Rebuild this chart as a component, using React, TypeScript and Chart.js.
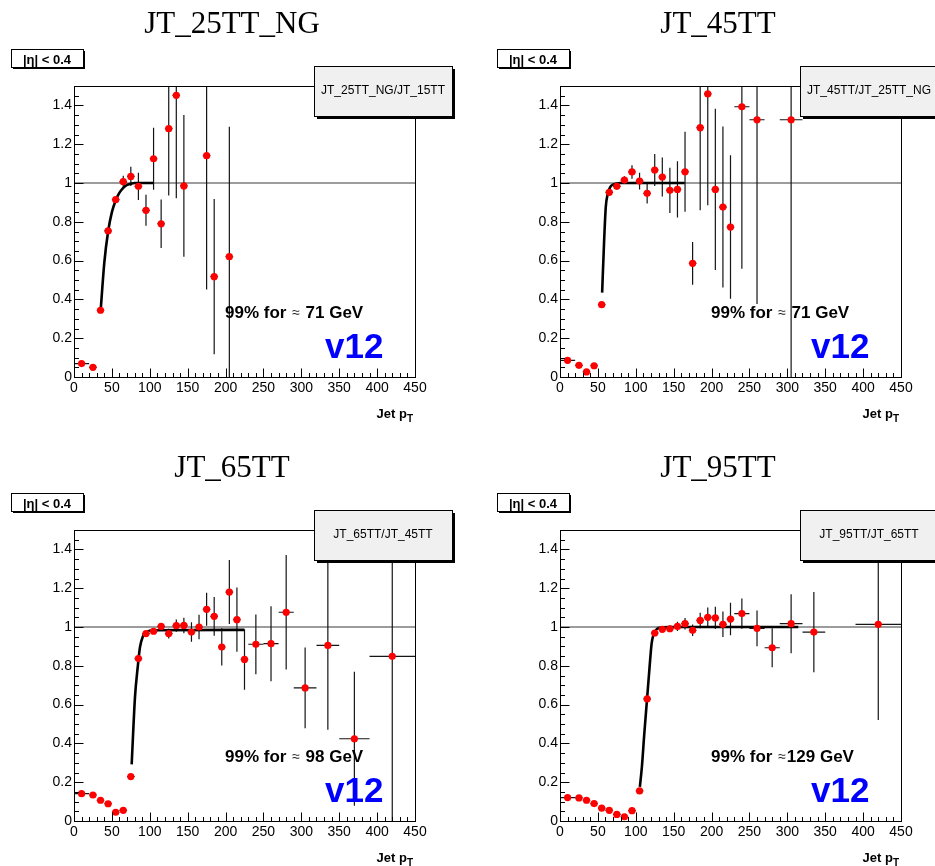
import React, { useEffect, useRef } from 'react';
import { Chart, registerables } from 'chart.js';

Chart.register(...registerables);

// ---------- data ----------
const binCenters = [10, 25, 35, 45, 55, 65, 75, 85, 95, 105, 115, 125, 135, 145, 155, 165, 175, 185, 195, 205, 215, 225, 240, 260, 280, 305, 335, 370, 420];
const binHalfWidths = [10, 5, 5, 5, 5, 5, 5, 5, 5, 5, 5, 5, 5, 5, 5, 5, 5, 5, 5, 5, 5, 5, 10, 10, 10, 15, 15, 20, 30];

const xTickValues = [0, 50, 100, 150, 200, 250, 300, 350, 400, 450];
const yTickValues = [0, 0.2, 0.4, 0.6, 0.8, 1, 1.2, 1.4];

const titles = ['JT_25TT_NG', 'JT_45TT', 'JT_65TT', 'JT_95TT'];
const legendTexts = ['JT_25TT_NG/JT_15TT', 'JT_45TT/JT_25TT_NG', 'JT_65TT/JT_45TT', 'JT_95TT/JT_65TT'];
const notes = ['99% for \u2248 71 GeV', '99% for \u2248 71 GeV', '99% for \u2248 98 GeV', '99% for \u2248129 GeV'];
const versionLabel = 'v12';
const etaLabel = '|\u03b7| < 0.4';

const ratio25 = [0.069, 0.050, 0.344, 0.753, 0.914, 1.007, 1.034, 0.983, 0.859, 1.125, 0.790, 1.280, 1.452, 0.985, null, null, 1.141, 0.517, null, 0.620, null, null, null, null, null, null, null, null, null];
const err25 = [0.004, 0.004, 0.008, 0.012, 0.015, 0.03, 0.05, 0.07, 0.08, 0.16, 0.125, 0.345, 0.53, 0.365, null, null, 0.69, 0.40, null, 0.67, null, null, null, null, null, null, null, null, null];

const ratio45 = [0.086, 0.060, 0.026, 0.058, 0.373, 0.952, 0.983, 1.015, 1.057, 1.010, 0.947, 1.067, 1.031, 0.962, 0.967, 1.058, 0.586, 1.285, 1.459, 0.967, 0.876, 0.773, 1.393, 1.326, null, 1.326, null, null, null];
const err45 = [0.004, 0.004, 0.004, 0.005, 0.008, 0.012, 0.015, 0.02, 0.035, 0.043, 0.053, 0.082, 0.10, 0.117, 0.145, 0.206, 0.11, 0.426, 0.574, 0.416, 0.415, 0.37, 0.835, 0.95, null, 1.45, null, null, null];

const ratio65 = [0.141, 0.134, 0.107, 0.089, 0.045, 0.055, 0.229, 0.837, 0.966, 0.978, 1.003, 0.966, 1.007, 1.008, 0.974, 1.000, 1.091, 1.055, 0.897, 1.180, 1.038, 0.833, 0.911, 0.914, 1.076, 0.686, 0.905, 0.424, 0.849];
const err65 = [0.004, 0.004, 0.004, 0.004, 0.004, 0.005, 0.008, 0.012, 0.012, 0.014, 0.018, 0.025, 0.032, 0.04, 0.05, 0.063, 0.085, 0.10, 0.096, 0.165, 0.166, 0.156, 0.154, 0.193, 0.295, 0.208, 0.434, 0.345, 0.95];

const ratio95 = [0.121, 0.119, 0.107, 0.090, 0.066, 0.055, 0.034, 0.022, 0.053, 0.155, 0.629, 0.969, 0.988, 0.991, 1.003, 1.017, 0.983, 1.034, 1.050, 1.047, 1.014, 1.041, 1.069, 0.993, 0.893, 1.017, 0.974, null, 1.014];
const err95 = [0.004, 0.004, 0.004, 0.004, 0.004, 0.004, 0.004, 0.004, 0.005, 0.008, 0.015, 0.012, 0.014, 0.017, 0.024, 0.03, 0.03, 0.04, 0.05, 0.057, 0.066, 0.084, 0.078, 0.092, 0.10, 0.152, 0.207, null, 0.493];

// fit curves
const fit25X = [35.5, 40, 45, 50, 55, 60, 65, 70, 75, 80, 105];
const fit25Y = [0.36, 0.59, 0.75, 0.85, 0.91, 0.95, 0.975, 0.99, 0.996, 1.0, 1.0];
const fit45X = [55.6, 58.2, 60.4, 63.1, 66.2, 70.6, 79.4, 164.5];
const fit45Y = [0.435, 0.70, 0.876, 0.945, 0.979, 0.993, 1.0, 1.0];
const fit65X = [76.1, 80.5, 84, 87.1, 90.6, 95.9, 104.7, 224.8];
const fit65Y = [0.292, 0.64, 0.79, 0.897, 0.948, 0.974, 0.983, 0.985];
const fit95X = [105.4, 108, 111.2, 114.7, 118.2, 120.9, 123.5, 127.9, 134.5, 145.6, 314.5];
const fit95Y = [0.176, 0.276, 0.448, 0.62, 0.793, 0.914, 0.962, 0.99, 0.998, 1.0, 1.0];

const ratios = [ratio25, ratio45, ratio65, ratio95];
const errors = [err25, err45, err65, err95];
const fitXs = [fit25X, fit45X, fit65X, fit95X];
const fitYs = [fit25Y, fit45Y, fit65Y, fit95Y];

// ---------- drawing ----------
const SANS = '"Liberation Sans", Arial, Helvetica, sans-serif';
const SERIF = '"Liberation Serif", "Times New Roman", serif';
const CW = 467;
const CH = 444;

const rootPlugin = {
  id: 'rootPanel',
  beforeDatasetsDraw(chart: any) {
    const { ctx, chartArea: a } = chart;
    const x = chart.scales.x;
    const y = chart.scales.y;
    ctx.save();
    ctx.beginPath();
    ctx.rect(a.left, a.top, a.right - a.left, a.bottom - a.top);
    ctx.clip();
    const y1 = y.getPixelForValue(1);
    ctx.strokeStyle = '#3a3a3a';
    ctx.lineWidth = 1.2;
    ctx.beginPath();
    ctx.moveTo(a.left, y1);
    ctx.lineTo(a.right, y1);
    ctx.stroke();
    const pts = chart.data.datasets[1].data;
    ctx.strokeStyle = '#151515';
    ctx.lineWidth = 1.2;
    for (const p of pts) {
      const px = x.getPixelForValue(p.x);
      const py = y.getPixelForValue(p.y);
      ctx.beginPath();
      ctx.moveTo(x.getPixelForValue(p.x - p.ex), py);
      ctx.lineTo(x.getPixelForValue(p.x + p.ex), py);
      ctx.moveTo(px, y.getPixelForValue(p.y - p.ey));
      ctx.lineTo(px, y.getPixelForValue(p.y + p.ey));
      ctx.stroke();
    }
    ctx.restore();
  },
  afterDraw(chart: any, _args: any, opts: any) {
    const { ctx, chartArea: a } = chart;
    const x = chart.scales.x;
    const y = chart.scales.y;
    ctx.save();
    // frame
    const L = Math.round(a.left) + 0.5;
    const R = Math.round(a.right) + 0.5;
    const T = Math.round(a.top) + 0.5;
    const B = Math.round(a.bottom) + 0.5;
    ctx.strokeStyle = '#000';
    ctx.lineWidth = 1;
    ctx.strokeRect(L, T, R - L, B - T);
    // ticks (inward)
    ctx.beginPath();
    for (let k = 0; k <= 45; k++) {
      const px = Math.round(x.getPixelForValue(k * 10)) + 0.5;
      const len = k % 5 === 0 ? 9 : 4.5;
      ctx.moveTo(px, B);
      ctx.lineTo(px, B - len);
    }
    for (let k = 0; k <= 30; k++) {
      const py = Math.round(y.getPixelForValue(k * 0.05)) + 0.5;
      const len = k % 4 === 0 ? 9 : 4.5;
      ctx.moveTo(L, py);
      ctx.lineTo(L + len, py);
    }
    ctx.stroke();

    // title
    ctx.fillStyle = '#000';
    ctx.font = `31px ${SERIF}`;
    ctx.textAlign = 'center';
    ctx.textBaseline = 'alphabetic';
    ctx.fillText(opts.title, a.left + 158, 33);

    // eta box
    const ex = a.left - 63, ey = 49, ew = 72, eh = 18;
    ctx.fillStyle = '#000';
    ctx.fillRect(ex + 2, ey + 2, ew, eh);
    ctx.fillStyle = '#fff';
    ctx.fillRect(ex, ey, ew, eh);
    ctx.strokeRect(Math.round(ex) + 0.5, ey + 0.5, ew, eh);
    ctx.fillStyle = '#000';
    ctx.font = `bold 13px ${SANS}`;
    ctx.fillText(etaLabel, ex + ew / 2, 64);

    // legend box
    const lx = a.left + 240, ly = 66, lw = 138, lh = 50;
    ctx.fillStyle = '#000';
    ctx.fillRect(lx + 3, ly + 3, lw, lh);
    ctx.fillStyle = '#f0f0f0';
    ctx.fillRect(lx, ly, lw, lh);
    ctx.strokeStyle = '#000';
    ctx.strokeRect(Math.round(lx) + 0.5, ly + 0.5, lw, lh);
    ctx.fillStyle = '#000';
    ctx.font = `12px ${SANS}`;
    ctx.fillText(opts.legend, lx + lw / 2, ly + 28);

    // note text
    const parts = String(opts.note).split('\u2248');
    ctx.textAlign = 'left';
    let nx = a.left + 151;
    const nb = 318;
    ctx.font = `bold 17px ${SANS}`;
    ctx.fillText(parts[0], nx, nb);
    nx += ctx.measureText(parts[0]).width + 1;
    ctx.font = `14px ${SANS}`;
    ctx.fillStyle = '#222';
    ctx.fillText('\u2248', nx, nb - 1);
    nx += ctx.measureText('\u2248').width + 1;
    ctx.fillStyle = '#000';
    ctx.font = `bold 17px ${SANS}`;
    ctx.fillText(parts[1], nx, nb);

    // version
    ctx.fillStyle = '#0000ff';
    ctx.font = `bold 35px ${SANS}`;
    ctx.fillText(versionLabel, a.left + 251, 358);

    // axis title
    ctx.fillStyle = '#000';
    ctx.font = `bold 13px ${SANS}`;
    const w1 = ctx.measureText('Jet p').width;
    ctx.font = `bold 10px ${SANS}`;
    const w2 = ctx.measureText('T').width;
    const sx = a.right - 2 - w1 - w2;
    ctx.font = `bold 13px ${SANS}`;
    ctx.fillText('Jet p', sx, 418);
    ctx.font = `bold 10px ${SANS}`;
    ctx.fillText('T', sx + w1, 422);
    ctx.restore();
  },
};

function PanelChart({ index, left, top }: { index: number; left: number; top: number }) {
  const ref = useRef<HTMLCanvasElement | null>(null);
  useEffect(() => {
    const ratio = ratios[index];
    const err = errors[index];
    const points: any[] = [];
    binCenters.forEach((c, i) => {
      if (ratio[i] != null) points.push({ x: c, y: ratio[i], ex: binHalfWidths[i], ey: err[i] ?? 0 });
    });
    const fit = fitXs[index].map((fx, i) => ({ x: fx, y: fitYs[index][i] }));
    const chart = new Chart(ref.current as HTMLCanvasElement, {
      type: 'scatter',
      data: {
        datasets: [
          {
            label: 'fit',
            data: fit,
            showLine: true,
            borderColor: '#000',
            borderWidth: 2.6,
            pointRadius: 0,
            cubicInterpolationMode: 'monotone',
            order: 2,
          } as any,
          {
            label: 'ratio',
            data: points,
            backgroundColor: '#ff0000',
            borderWidth: 0,
            pointRadius: 3.6,
            order: 1,
          } as any,
        ],
      },
      options: {
        animation: false,
        responsive: false,
        devicePixelRatio: 1,
        events: [],
        layout: { padding: { left: 14, top: 86, right: 52, bottom: 37 } },
        plugins: {
          legend: { display: false },
          tooltip: { enabled: false },
          rootPanel: { title: titles[index], legend: legendTexts[index], note: notes[index] },
        } as any,
        scales: {
          x: {
            type: 'linear',
            min: 0,
            max: 450,
            grid: { display: false, drawTicks: false },
            border: { display: false },
            afterBuildTicks: (s: any) => {
              s.ticks = xTickValues.map((v) => ({ value: v }));
            },
            afterFit: (s: any) => {
              s.height = 30;
            },
            ticks: {
              autoSkip: false,
              maxRotation: 0,
              padding: 3,
              color: '#000',
              font: { family: SANS, size: 14 },
              callback: (v: any) => String(v),
            },
          },
          y: {
            type: 'linear',
            min: 0,
            max: 1.5,
            grid: { display: false, drawTicks: false },
            border: { display: false },
            afterBuildTicks: (s: any) => {
              s.ticks = yTickValues.map((v) => ({ value: v }));
            },
            afterFit: (s: any) => {
              s.width = 60;
            },
            ticks: {
              autoSkip: false,
              padding: 2,
              color: '#000',
              font: { family: SANS, size: 14 },
              callback: (v: any) => {
                const r = Math.round(Number(v) * 10) / 10;
                return r === 0 ? '0' : r === 1 ? '1' : r.toFixed(1);
              },
            },
          },
        },
      } as any,
      plugins: [rootPlugin as any],
    });
    return () => chart.destroy();
  }, [index]);
  return (
    <canvas
      ref={ref}
      width={CW}
      height={CH}
      style={{ position: 'absolute', left, top, width: CW, height: CH }}
    />
  );
}

export default function App() {
  const positions = [
    { left: 0, top: 0 },
    { left: 486, top: 0 },
    { left: 0, top: 444 },
    { left: 486, top: 444 },
  ];
  return (
    <div
      style={{
        position: 'absolute',
        left: 0,
        top: 0,
        width: 935,
        height: 866,
        overflow: 'hidden',
        background: '#fff',
      }}
    >
      {positions.map((p, i) => (
        <PanelChart key={i} index={i} left={p.left} top={p.top} />
      ))}
    </div>
  );
}
